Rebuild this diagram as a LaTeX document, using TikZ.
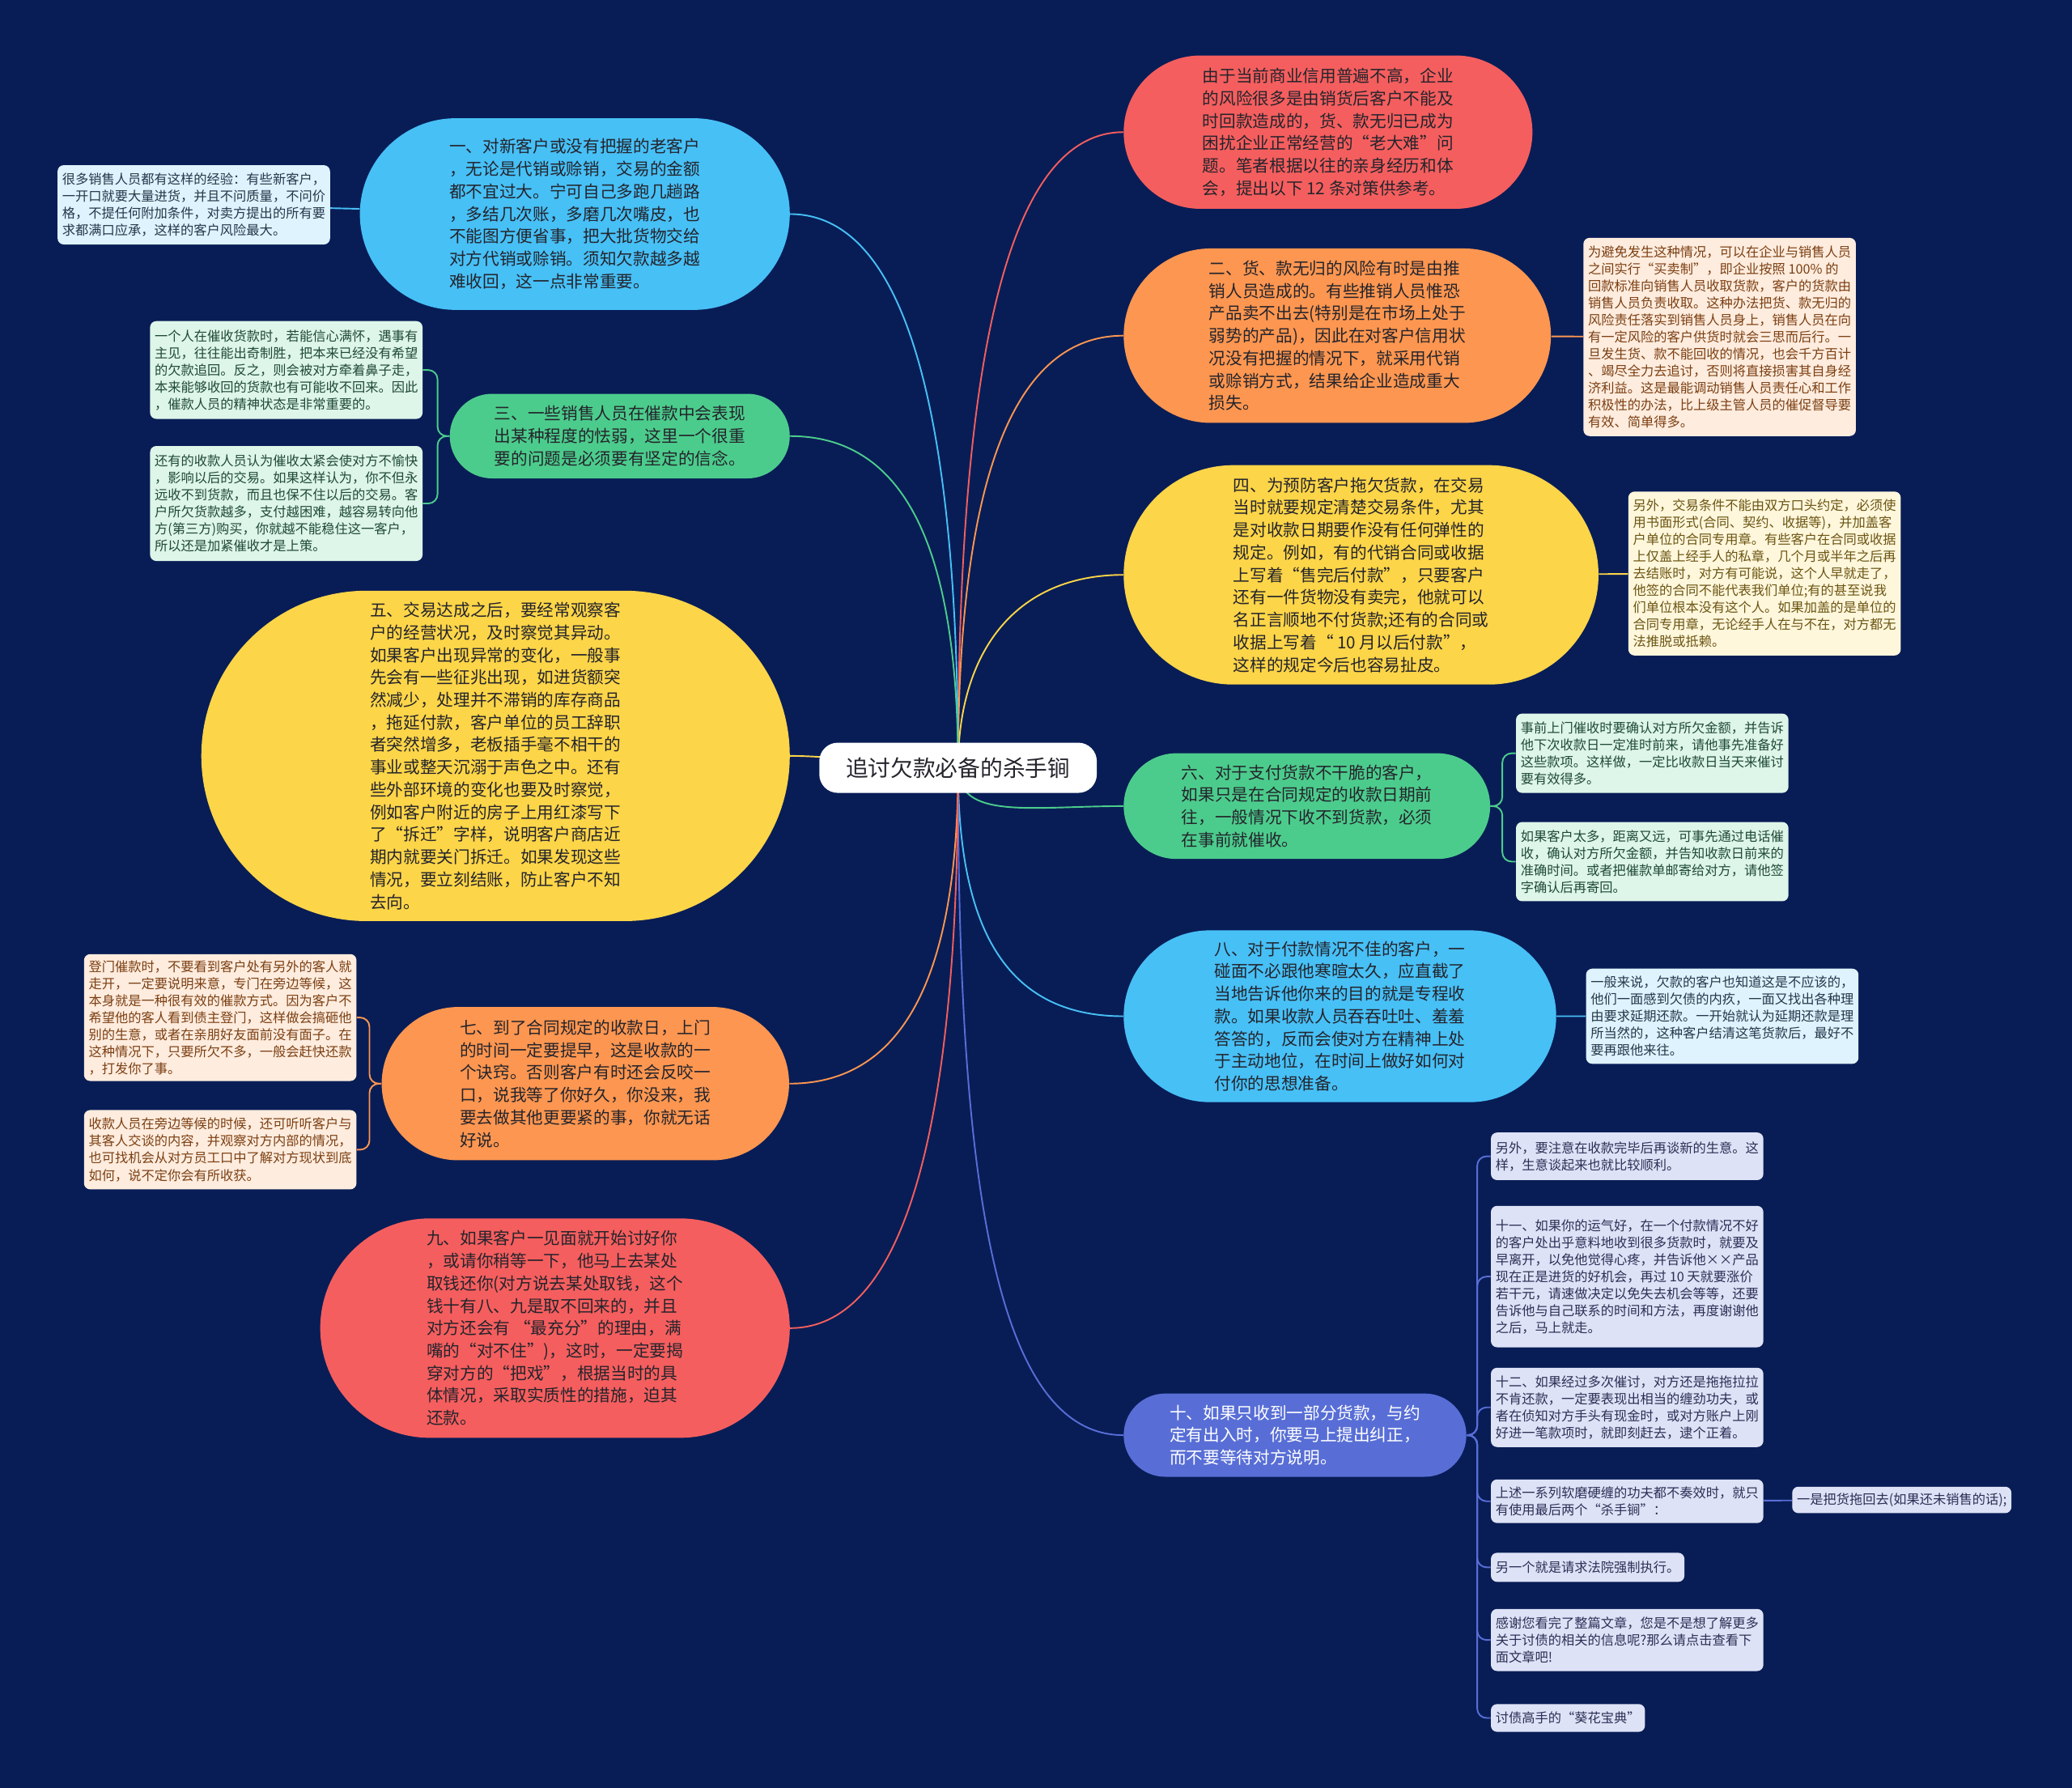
\documentclass[tikz,border=0pt]{standalone}
\usepackage{fontspec}
\setmainfont{Noto Sans CJK SC}
\usetikzlibrary{shapes.misc}
\definecolor{navy}{RGB}{8,29,86}
\definecolor{redb}{RGB}{245,94,94}
\definecolor{orangeb}{RGB}{253,150,80}
\definecolor{yellowb}{RGB}{253,213,72}
\definecolor{greenb}{RGB}{76,204,140}
\definecolor{blueb}{RGB}{71,192,246}
\definecolor{violetb}{RGB}{88,110,214}
\definecolor{bluen}{RGB}{222,243,253}
\definecolor{greenn}{RGB}{222,245,233}
\definecolor{orangen}{RGB}{254,236,222}
\definecolor{yellown}{RGB}{255,247,220}
\definecolor{violetn}{RGB}{222,226,246}
\definecolor{darktext}{RGB}{36,36,44}
\definecolor{bluet}{RGB}{36,56,74}
\definecolor{greent}{RGB}{31,74,53}
\definecolor{oranget}{RGB}{123,63,18}
\definecolor{yellowt}{RGB}{107,85,19}
\definecolor{violett}{RGB}{43,47,85}
\newcommand{\rootfont}{\fontsize{14.5}{17}\selectfont}
\newcommand{\branchfont}{\fontsize{10.8}{14.5}\selectfont}
\newcommand{\notefont}{\fontsize{8.5}{11}\selectfont}
\pgfdeclarelayer{bg}
\pgfdeclarelayer{edges}
\pgfsetlayers{bg,edges,main}

\begin{document}
\begin{tikzpicture}[x=0.03cm, y=-0.03cm,
	root/.style={fill=white, rounded corners=12pt, text=darktext, font=\rootfont, minimum width=6.3cm, minimum height=1.14cm},
	branch/.style={rounded rectangle, fill=#1, text=darktext, align=left, inner xsep=2pt, font=\branchfont},
	note/.style={rounded corners=4pt, align=left, inner xsep=3pt, inner ysep=2pt, font=\notefont},
	bluenote/.style={note, fill=bluen, text=bluet},
	greennote/.style={note, fill=greenn, text=greent},
	orangenote/.style={note, fill=orangen, text=oranget},
	yellownote/.style={note, fill=yellown, text=yellowt},
	violetnote/.style={note, fill=violetn, text=violett},
	link/.style={draw=#1, line width=1pt}]
	\useasboundingbox (0,0) rectangle (1568,1353);
	\begin{pgfonlayer}{bg}
		\fill[navy] (0,0) rectangle (1568,1353);
	\end{pgfonlayer}

	\node[root] (ctr) at (725,581) {追讨欠款必备的杀手锏};

	\node[branch=redb, minimum width=9.42cm, minimum height=3.48cm] (R0) at (1005,100) {由于当前商业信用普遍不高，企业\\
		的风险很多是由销货后客户不能及\\
		时回款造成的，货、款无归已成为\\
		困扰企业正常经营的“老大难”问\\
		题。笔者根据以往的亲身经历和体\\
		会，提出以下 12 条对策供参考。};
	\node[branch=orangeb, minimum width=9.84cm, minimum height=3.96cm] (R2) at (1012,254) {二、货、款无归的风险有时是由推\\
		销人员造成的。有些推销人员惟恐\\
		产品卖不出去(特别是在市场上处于\\
		弱势的产品)，因此在对客户信用状\\
		况没有把握的情况下，就采用代销\\
		或赊销方式，结果给企业造成重大\\
		损失。};
	\node[branch=yellowb, minimum width=10.92cm, minimum height=4.98cm] (R4) at (1030,435) {四、为预防客户拖欠货款，在交易\\
		当时就要规定清楚交易条件，尤其\\
		是对收款日期要作没有任何弹性的\\
		规定。例如，有的代销合同或收据\\
		上写着“售完后付款”，只要客户\\
		还有一件货物没有卖完，他就可以\\
		名正言顺地不付货款;还有的合同或\\
		收据上写着“ 10 月以后付款”，\\
		这样的规定今后也容易扯皮。};
	\node[branch=greenb, minimum width=8.46cm, minimum height=2.4cm] (R6) at (989,610) {六、对于支付货款不干脆的客户，\\
		如果只是在合同规定的收款日期前\\
		往，一般情况下收不到货款，必须\\
		在事前就催收。};
	\node[branch=blueb, minimum width=9.96cm, minimum height=3.9cm] (R8) at (1014,769) {八、对于付款情况不佳的客户，一\\
		碰面不必跟他寒暄太久，应直截了\\
		当地告诉他你来的目的就是专程收\\
		款。如果收款人员吞吞吐吐、羞羞\\
		答答的，反而会使对方在精神上处\\
		于主动地位，在时间上做好如何对\\
		付你的思想准备。};
	\node[branch=violetb, text=white, minimum width=7.92cm, minimum height=1.89cm] (R10) at (980,1086) {十、如果只收到一部分货款，与约\\
		定有出入时，你要马上提出纠正，\\
		而不要等待对方说明。};

	\node[branch=blueb, minimum width=9.9cm, minimum height=4.35cm] (L1) at (435,162) {一、对新客户或没有把握的老客户\\
		，无论是代销或赊销，交易的金额\\
		都不宜过大。宁可自己多跑几趟路\\
		，多结几次账，多磨几次嘴皮，也\\
		不能图方便省事，把大批货物交给\\
		对方代销或赊销。须知欠款越多越\\
		难收回，这一点非常重要。};
	\node[branch=greenb, minimum width=7.86cm, minimum height=1.92cm] (L3) at (469,330) {三、一些销售人员在催款中会表现\\
		出某种程度的怯弱，这里一个很重\\
		要的问题是必须要有坚定的信念。};
	\node[branch=yellowb, minimum width=13.5cm, minimum height=7.5cm] (L5) at (375,572) {五、交易达成之后，要经常观察客\\
		户的经营状况，及时察觉其异动。\\
		如果客户出现异常的变化，一般事\\
		先会有一些征兆出现，如进货额突\\
		然减少，处理并不滞销的库存商品\\
		，拖延付款，客户单位的员工辞职\\
		者突然增多，老板插手毫不相干的\\
		事业或整天沉溺于声色之中。还有\\
		些外部环境的变化也要及时察觉，\\
		例如客户附近的房子上用红漆写下\\
		了“拆迁”字样，说明客户商店近\\
		期内就要关门拆迁。如果发现这些\\
		情况，要立刻结账，防止客户不知\\
		去向。};
	\node[branch=orangeb, minimum width=9.39cm, minimum height=3.48cm] (L7) at (443,820) {七、到了合同规定的收款日，上门\\
		的时间一定要提早，这是收款的一\\
		个诀窍。否则客户有时还会反咬一\\
		口，说我等了你好久，你没来，我\\
		要去做其他更要紧的事，你就无话\\
		好说。};
	\node[branch=redb, minimum width=10.8cm, minimum height=4.98cm] (L9) at (420,1005) {九、如果客户一见面就开始讨好你\\
		，或请你稍等一下，他马上去某处\\
		取钱还你(对方说去某处取钱，这个\\
		钱十有八、九是取不回来的，并且\\
		对方还会有 “最充分”的理由，满\\
		嘴的“对不住”)，这时，一定要揭\\
		穿对方的“把戏”，根据当时的具\\
		体情况，采取实质性的措施，迫其\\
		还款。};

	\node[bluenote, anchor=east, minimum height=1.8cm] (n1) at (250,155) {很多销售人员都有这样的经验：有些新客户，\\
		一开口就要大量进货，并且不问质量，不问价\\
		格，不提任何附加条件，对卖方提出的所有要\\
		求都满口应承，这样的客户风险最大。};
	\node[greennote, anchor=east, minimum height=2.22cm] (n3a) at (320,280) {一个人在催收货款时，若能信心满怀，遇事有\\
		主见，往往能出奇制胜，把本来已经没有希望\\
		的欠款追回。反之，则会被对方牵着鼻子走，\\
		本来能够收回的货款也有可能收不回来。因此\\
		，催款人员的精神状态是非常重要的。};
	\node[greennote, anchor=east, minimum height=2.61cm] (n3b) at (320,381) {还有的收款人员认为催收太紧会使对方不愉快\\
		，影响以后的交易。如果这样认为，你不但永\\
		远收不到货款，而且也保不住以后的交易。客\\
		户所欠货款越多，支付越困难，越容易转向他\\
		方(第三方)购买，你就越不能稳住这一客户，\\
		所以还是加紧催收才是上策。};
	\node[orangenote, anchor=east, minimum height=2.88cm] (n7a) at (270,770) {登门催款时，不要看到客户处有另外的客人就\\
		走开，一定要说明来意，专门在旁边等候，这\\
		本身就是一种很有效的催款方式。因为客户不\\
		希望他的客人看到债主登门，这样做会搞砸他\\
		别的生意，或者在亲朋好友面前没有面子。在\\
		这种情况下，只要所欠不多，一般会赶快还款\\
		，打发你了事。};
	\node[orangenote, anchor=east, minimum height=1.8cm] (n7b) at (270,870) {收款人员在旁边等候的时候，还可听听客户与\\
		其客人交谈的内容，并观察对方内部的情况，\\
		也可找机会从对方员工口中了解对方现状到底\\
		如何，说不定你会有所收获。};

	\node[orangenote, anchor=west, minimum height=4.5cm] (n2) at (1198,255) {为避免发生这种情况，可以在企业与销售人员\\
		之间实行“买卖制”，即企业按照 100\% 的\\
		回款标准向销售人员收取货款，客户的货款由\\
		销售人员负责收取。这种办法把货、款无归的\\
		风险责任落实到销售人员身上，销售人员在向\\
		有一定风险的客户供货时就会三思而后行。一\\
		旦发生货、款不能回收的情况，也会千方百计\\
		、竭尽全力去追讨，否则将直接损害其自身经\\
		济利益。这是最能调动销售人员责任心和工作\\
		积极性的办法，比上级主管人员的催促督导要\\
		有效、简单得多。};
	\node[yellownote, anchor=west, minimum height=3.72cm] (n4) at (1232,434) {另外，交易条件不能由双方口头约定，必须使\\
		用书面形式(合同、契约、收据等)，并加盖客\\
		户单位的合同专用章。有些客户在合同或收据\\
		上仅盖上经手人的私章，几个月或半年之后再\\
		去结账时，对方有可能说，这个人早就走了，\\
		他签的合同不能代表我们单位;有的甚至说我\\
		们单位根本没有这个人。如果加盖的是单位的\\
		合同专用章，无论经手人在与不在，对方都无\\
		法推脱或抵赖。};
	\node[greennote, anchor=west, minimum height=1.8cm] (n6a) at (1147,570) {事前上门催收时要确认对方所欠金额，并告诉\\
		他下次收款日一定准时前来，请他事先准备好\\
		这些款项。这样做，一定比收款日当天来催讨\\
		要有效得多。};
	\node[greennote, anchor=west, minimum height=1.8cm] (n6b) at (1147,652) {如果客户太多，距离又远，可事先通过电话催\\
		收，确认对方所欠金额，并告知收款日前来的\\
		准确时间。或者把催款单邮寄给对方，请他签\\
		字确认后再寄回。};
	\node[bluenote, anchor=west, minimum height=2.16cm] (n8) at (1200,769) {一般来说，欠款的客户也知道这是不应该的，\\
		他们一面感到欠债的内疚，一面又找出各种理\\
		由要求延期还款。一开始就认为延期还款是理\\
		所当然的，这种客户结清这笔货款后，最好不\\
		要再跟他来往。};

	\node[violetnote, anchor=west, minimum height=1.08cm] (c1) at (1128,875) {另外，要注意在收款完毕后再谈新的生意。这\\
		样，生意谈起来也就比较顺利。};
	\node[violetnote, anchor=west, minimum height=3.21cm] (c2) at (1128,966) {十一、如果你的运气好，在一个付款情况不好\\
		的客户处出乎意料地收到很多货款时，就要及\\
		早离开，以免他觉得心疼，并告诉他××产品\\
		现在正是进货的好机会，再过 10 天就要涨价\\
		若干元，请速做决定以免失去机会等等，还要\\
		告诉他与自己联系的时间和方法，再度谢谢他\\
		之后，马上就走。};
	\node[violetnote, anchor=west, minimum height=1.8cm] (c3) at (1128,1065) {十二、如果经过多次催讨，对方还是拖拖拉拉\\
		不肯还款，一定要表现出相当的缠劲功夫，或\\
		者在侦知对方手头有现金时，或对方账户上刚\\
		好进一笔款项时，就即刻赶去，逮个正着。};
	\node[violetnote, anchor=west, minimum height=0.99cm] (c4) at (1128,1136) {上述一系列软磨硬缠的功夫都不奏效时，就只\\
		有使用最后两个“杀手锏”：};
	\node[violetnote, anchor=west, minimum height=0.6cm] (c4a) at (1356,1135) {一是把货拖回去(如果还未销售的话);};
	\node[violetnote, anchor=west, minimum height=0.66cm] (c5) at (1128,1186) {另一个就是请求法院强制执行。};
	\node[violetnote, anchor=west, minimum height=1.41cm] (c6) at (1128,1241) {感谢您看完了整篇文章，您是不是想了解更多\\
		关于讨债的相关的信息呢?那么请点击查看下\\
		面文章吧!};
	\node[violetnote, anchor=west, minimum height=0.63cm] (c7) at (1128,1300) {讨债高手的“葵花宝典”};

	\begin{pgfonlayer}{edges}
		\draw[link=redb] (ctr.center) .. controls +(0,-300) and +(-90,0) .. (R0.west);
		\draw[link=orangeb] (ctr.center) .. controls +(0,-200) and +(-90,0) .. (R2.west);
		\draw[link=yellowb] (ctr.center) .. controls +(0,-90) and +(-80,0) .. (R4.west);
		\draw[link=greenb] (ctr.center) .. controls +(0,40) and +(-70,0) .. (R6.west);
		\draw[link=blueb] (ctr.center) .. controls +(0,120) and +(-90,0) .. (R8.west);
		\draw[link=violetb] (ctr.center) .. controls +(0,300) and +(-100,0) .. (R10.west);
		\draw[link=blueb] (ctr.center) .. controls +(0,-260) and +(90,0) .. (L1.east);
		\draw[link=greenb] (ctr.center) .. controls +(0,-160) and +(90,0) .. (L3.east);
		\draw[link=yellowb] (ctr.center) .. controls +(-40,0) and +(40,0) .. (L5.east);
		\draw[link=orangeb] (ctr.center) .. controls +(0,150) and +(90,0) .. (L7.east);
		\draw[link=redb] (ctr.center) .. controls +(0,260) and +(90,0) .. (L9.east);

		\draw[link=blueb] (L1) -- (n1);
		\draw[link=greenb, rounded corners=6pt] (L3.west) -- ++(-9,0) |- (n3a.east);
		\draw[link=greenb, rounded corners=6pt] (L3.west) -- ++(-9,0) |- (n3b.east);
		\draw[link=orangeb, rounded corners=6pt] (L7.west) -- ++(-9,0) |- (n7a.east);
		\draw[link=orangeb, rounded corners=6pt] (L7.west) -- ++(-9,0) |- (n7b.east);
		\draw[link=orangeb] (R2) -- (n2);
		\draw[link=yellowb] (R4) -- (n4);
		\draw[link=greenb, rounded corners=6pt] (R6.east) -- ++(9,0) |- (n6a.west);
		\draw[link=greenb, rounded corners=6pt] (R6.east) -- ++(9,0) |- (n6b.west);
		\draw[link=blueb] (R8) -- (n8);
		\draw[link=violetb, rounded corners=6pt] (R10.east) -- ++(8,0) |- (c1.west);
		\draw[link=violetb, rounded corners=6pt] (R10.east) -- ++(8,0) |- (c2.west);
		\draw[link=violetb, rounded corners=6pt] (R10.east) -- ++(8,0) |- (c3.west);
		\draw[link=violetb, rounded corners=6pt] (R10.east) -- ++(8,0) |- (c4.west);
		\draw[link=violetb, rounded corners=6pt] (R10.east) -- ++(8,0) |- (c5.west);
		\draw[link=violetb, rounded corners=6pt] (R10.east) -- ++(8,0) |- (c6.west);
		\draw[link=violetb, rounded corners=6pt] (R10.east) -- ++(8,0) |- (c7.west);
		\draw[link=violetb] (c4) -- (c4a);
	\end{pgfonlayer}
\end{tikzpicture}
\end{document}
